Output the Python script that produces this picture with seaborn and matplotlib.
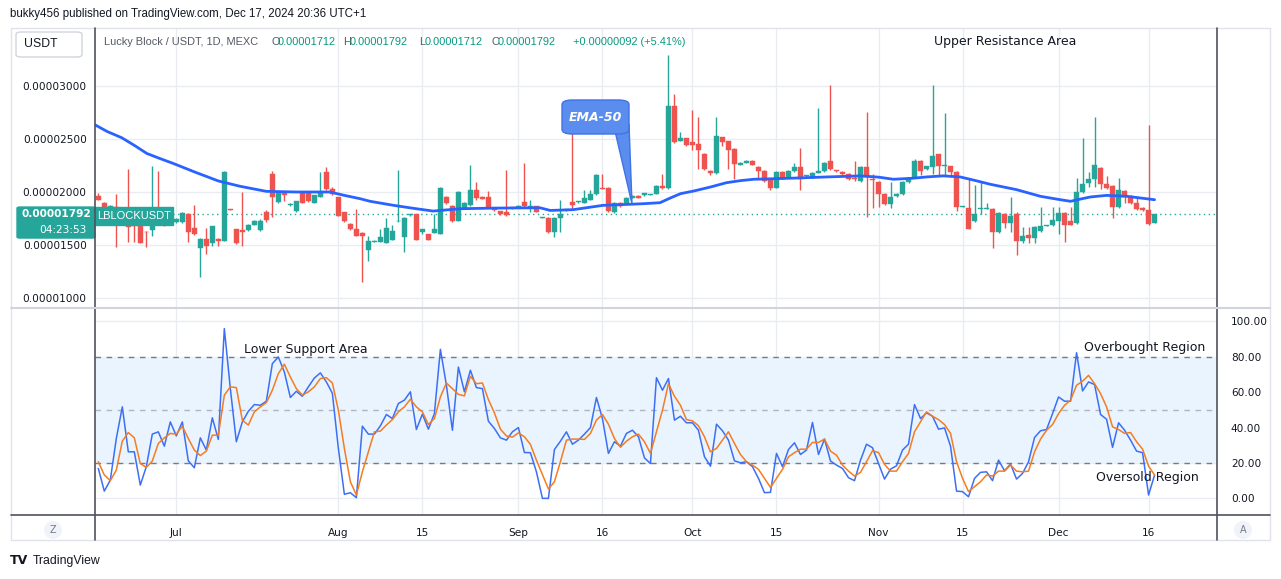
import numpy as np
import pandas as pd
import matplotlib
matplotlib.use("Agg")
import matplotlib.pyplot as plt
import seaborn as sns
from matplotlib.patches import FancyBboxPatch, Polygon, Rectangle, Ellipse
from matplotlib.lines import Line2D
from matplotlib.ticker import FuncFormatter, FixedLocator

sns.set_theme(style="white")
plt.rcParams['font.family'] = ['DejaVu Sans']

# ---------------- data (prices in units of 1e-8 USDT) ----------------
SCALE = 1e-8
opens = [1962, 1899, 1850, 1860, 1716, 1716, 1684, 1684, 1624, 1640,
         1760, 1730, 1693, 1716, 1716, 1795, 1662, 1475, 1558, 1517,
         1558, 1542, 1835, 1652, 1637, 1637, 1693, 1637, 1810, 2174,
         1905, 2000, 1874, 1817, 1994, 1994, 1899, 1953, 2190, 2032,
         1953, 1810, 1700, 1652, 1614, 1456, 1532, 1532, 1520, 1548,
         1722, 1580, 1779, 1788, 1627, 1605, 1614, 1608, 1956, 1870,
         1731, 1848, 1874, 2022, 1956, 1956, 1848, 1820, 1810, 1858,
         1858, 1905, 1858, 1864, 1755, 1757, 1618, 1750, 1826, 1905,
         1902, 1899, 1927, 1978, 2038, 2041, 1807, 1899, 1893, 1943,
         1965, 1968, 1972, 1984, 2060, 2035, 2815, 2483, 2506, 2468,
         2449, 2363, 2202, 2177, 2515, 2477, 2401, 2253, 2272, 2297,
         2240, 2202, 2120, 2041, 2193, 2136, 2196, 2240, 2150, 2133,
         2183, 2196, 2288, 2202, 2193, 2174, 2133, 2101, 2240, 2126,
         2098, 1984, 1883, 1959, 1978, 2092, 2136, 2288, 2215, 2234,
         2354, 2243, 2243, 2193, 1858, 1851, 1722, 1836, 1842, 1842,
         1618, 1788, 1712, 1791, 1542, 1595, 1570, 1630, 1678, 1684,
         1722, 1804, 1722, 1703, 1997, 2082, 2120, 2231, 2079, 2054,
         1855, 2013, 1965, 1899, 1851, 1833, 1712]
highs = [1987, 1905, 1880, 1984, 1780, 2221, 1690, 1690, 1628, 2243,
         2202, 1745, 1750, 1750, 1810, 1800, 1874, 1562, 1662, 1680,
         1562, 2195, 1837, 1655, 2000, 1697, 1732, 1747, 1826, 2196,
         2005, 2003, 1893, 1918, 1997, 2000, 1972, 2190, 2237, 2047,
         1956, 1813, 1703, 1842, 1620, 1589, 1545, 1652, 1754, 1693,
         2212, 1760, 1791, 1792, 1655, 1608, 1788, 2045, 1960, 1875,
         2006, 1902, 2259, 2095, 1960, 2013, 1851, 1823, 2212, 1861,
         1873, 2275, 1921, 1867, 1762, 1760, 1760, 1927, 1835, 2610,
         1915, 2016, 2022, 2168, 2174, 2045, 1902, 1902, 1950, 1968,
         1968, 1994, 1981, 2063, 2174, 3292, 2923, 2562, 2510, 2774,
         2711, 2366, 2205, 2711, 2518, 2480, 2411, 2281, 2300, 2300,
         2243, 2205, 2123, 2196, 2196, 2205, 2269, 2411, 2160, 2186,
         2790, 2281, 3011, 2205, 2196, 2177, 2288, 2243, 2752, 2174,
         2101, 1987, 2098, 1987, 2101, 2139, 2307, 2300, 2246, 3011,
         2357, 2743, 2246, 2196, 1867, 2126, 2063, 2104, 1899, 1845,
         1807, 1804, 1956, 1810, 1668, 1668, 1675, 1861, 1690, 1861,
         1861, 1810, 1861, 2136, 2506, 2193, 2705, 2234, 2155, 2063,
         2136, 2016, 1968, 1965, 1854, 2629, 1792]
lows = [1920, 1850, 1840, 1479, 1700, 1532, 1526, 1515, 1479, 1589,
        1700, 1680, 1690, 1712, 1712, 1526, 1595, 1200, 1415, 1494,
        1494, 1538, 1828, 1512, 1494, 1632, 1690, 1633, 1716, 1763,
        1900, 1912, 1870, 1814, 1893, 1905, 1896, 1950, 2022, 1975,
        1770, 1719, 1646, 1585, 1147, 1352, 1530, 1529, 1517, 1545,
        1718, 1431, 1776, 1548, 1605, 1548, 1611, 1605, 1890, 1719,
        1728, 1845, 1870, 1921, 1930, 1845, 1822, 1785, 1776, 1842,
        1855, 1860, 1810, 1807, 1752, 1615, 1573, 1621, 1822, 1826,
        1899, 1896, 1924, 1975, 2029, 1814, 1804, 1860, 1890, 1940,
        1940, 1965, 1969, 1981, 2032, 2030, 2465, 2480, 2438, 2395,
        2215, 2212, 2158, 2174, 2433, 2215, 2126, 2250, 2269, 2250,
        2133, 2095, 2016, 2038, 2123, 2133, 2193, 2022, 2145, 2130,
        2180, 2193, 2210, 2193, 2164, 2117, 2101, 2098, 1763, 1848,
        1858, 1880, 1848, 1956, 1975, 2089, 2133, 2158, 2212, 2174,
        2158, 2158, 2142, 1817, 1855, 1649, 1719, 1788, 1839, 1475,
        1615, 1659, 1618, 1409, 1523, 1523, 1523, 1627, 1675, 1681,
        1599, 1532, 1690, 1700, 1987, 2047, 2047, 2028, 2025, 1757,
        1852, 1893, 1883, 1833, 1823, 1693, 1712]
closes = [1924, 1858, 1870, 1820, 1760, 1668, 1675, 1523, 1618, 1700,
          1710, 1690, 1747, 1747, 1804, 1627, 1599, 1558, 1488, 1675,
          1542, 2190, 1830, 1517, 1627, 1693, 1728, 1722, 1738, 1953,
          2000, 1968, 1890, 1915, 1896, 1915, 1968, 2000, 2025, 1984,
          1772, 1722, 1649, 1589, 1589, 1542, 1542, 1573, 1662, 1633,
          1731, 1757, 1788, 1551, 1652, 1551, 1652, 2041, 1893, 1722,
          2003, 1899, 2022, 1943, 1934, 1848, 1826, 1788, 1779, 1845,
          1870, 1864, 1864, 1810, 1759, 1618, 1757, 1795, 1830, 1874,
          1912, 1946, 1978, 2164, 2032, 1817, 1899, 1864, 1946, 1965,
          1943, 1991, 1978, 2060, 2035, 2815, 2471, 2506, 2442, 2442,
          2395, 2215, 2183, 2525, 2471, 2395, 2262, 2278, 2297, 2253,
          2196, 2101, 2035, 2193, 2126, 2202, 2234, 2126, 2155, 2183,
          2202, 2278, 2215, 2196, 2167, 2120, 2120, 2240, 2142, 2111,
          1984, 1883, 1956, 1984, 2098, 2136, 2288, 2196, 2243, 2335,
          2243, 2259, 2190, 1855, 1864, 1652, 1795, 1842, 1851, 1618,
          1804, 1703, 1776, 1542, 1583, 1570, 1671, 1681, 1687, 1738,
          1804, 1693, 1693, 2003, 2079, 2126, 2250, 2073, 2041, 1855,
          2022, 1953, 1893, 1836, 1826, 1700, 1792]

# EMA-50 (bar index, price)
ema_idx = [-0.5, 1.5, 3.9, 6, 8.1, 10.3, 12.5, 16, 20, 23.6, 28, 33, 38.6,
           41, 43.6, 45.3, 49.2, 52.5, 55.8, 60.3, 66, 73.6, 75.3, 79.1,
           84.1, 88.1, 91, 93.6, 95.3, 97, 99.2, 102, 104.7, 107, 109.2,
           113.1, 117, 121.4, 127, 130, 132.5, 135.8, 138, 140.8, 143.6,
           146, 148.6, 153, 157, 160, 162, 163.8, 165.3, 168, 171.4, 176]
ema_val = [2632, 2570, 2512, 2440, 2363, 2315, 2269, 2190, 2104, 2054, 2006,
           2000, 2000, 1968, 1937, 1912, 1874, 1846, 1820, 1842, 1848, 1851,
           1826, 1833, 1874, 1883, 1890, 1899, 1943, 1984, 2009, 2047, 2088,
           2107, 2120, 2126, 2133, 2142, 2152, 2140, 2120, 2130, 2142, 2152,
           2142, 2110, 2073, 2022, 1959, 1930, 1912, 1935, 1953, 1968, 1959,
           1927]

# Stochastic %K and %D
stoch_k = [16.9, 4.1, 10.3, 33.8, 51.7, 26.3, 26.3, 7.5, 17.9, 36.3,
           37.6, 29.5, 43.2, 35.3, 43.2, 21.2, 17.3, 34.2, 27.3, 45.5,
           33.3, 95.9, 62.0, 32.0, 43.2, 49.2, 53.0, 52.6, 54.9, 76.1,
           79.9, 71.4, 57.0, 60.5, 57.7, 63.0, 68.0, 70.9, 65.8, 59.4,
           28.2, 2.3, 3.2, 0.4, 40.8, 36.3, 36.3, 41.0, 47.4, 45.1,
           53.6, 55.5, 60.2, 38.9, 47.6, 39.1, 47.9, 84.2, 64.0, 38.5,
           74.2, 60.2, 72.4, 62.6, 62.0, 43.6, 39.5, 34.2, 32.9, 37.6,
           40.0, 25.9, 25.8, 15.0, 0.0, 0.0, 27.6, 32.3, 37.6, 30.6,
           32.9, 36.3, 40.0, 57.0, 45.1, 25.4, 32.0, 29.5, 36.7, 38.5,
           34.8, 22.9, 19.7, 68.2, 61.1, 67.7, 44.2, 46.4, 42.7, 42.7,
           38.5, 23.5, 18.2, 41.9, 38.2, 32.9, 21.2, 20.1, 20.7, 17.9,
           11.3, 3.2, 3.4, 25.4, 17.9, 27.6, 31.4, 24.8, 27.3, 42.9,
           24.8, 33.5, 21.1, 18.8, 16.9, 11.7, 10.0, 21.6, 30.6, 28.6,
           19.7, 10.9, 16.5, 18.4, 27.3, 30.6, 53.0, 45.1, 48.3, 46.4,
           39.1, 39.8, 29.5, 4.1, 3.8, 0.9, 11.3, 14.7, 15.0, 10.0,
           21.6, 15.6, 19.4, 10.9, 14.1, 20.7, 34.4, 38.2, 38.9, 47.9,
           57.3, 54.9, 54.9, 82.3, 60.7, 65.8, 64.3, 47.4, 44.7, 28.8,
           42.7, 38.5, 32.9, 26.7, 25.8, 1.9, 13.2]
stoch_d = [20.7, 13.2, 10.0, 16.0, 32.3, 37.2, 34.2, 19.7, 17.5, 21.1,
           31.0, 34.2, 36.7, 36.3, 40.8, 33.8, 27.3, 24.2, 26.7, 35.7,
           35.7, 58.3, 63.0, 62.6, 44.2, 41.4, 48.9, 51.7, 54.1, 61.1,
           70.5, 75.8, 68.6, 62.0, 58.3, 60.2, 63.0, 67.7, 68.2, 65.2,
           49.8, 28.2, 9.4, 1.9, 15.0, 26.3, 37.6, 38.0, 41.4, 44.5,
           48.9, 51.7, 56.0, 51.7, 48.9, 41.7, 45.1, 57.3, 65.2, 62.0,
           58.8, 57.9, 69.0, 64.8, 65.2, 55.8, 48.3, 39.1, 35.3, 34.6,
           37.0, 34.8, 30.5, 21.6, 13.5, 5.3, 9.4, 20.7, 32.9, 33.5,
           33.5, 33.3, 36.7, 44.2, 47.4, 41.9, 33.8, 28.9, 32.3, 34.8,
           36.3, 32.0, 25.4, 37.6, 49.8, 64.8, 57.7, 52.6, 44.5, 43.8,
           41.0, 34.8, 26.3, 28.2, 32.9, 37.6, 31.0, 24.8, 20.7, 18.8,
           16.4, 11.3, 6.2, 11.3, 16.4, 23.5, 25.8, 27.8, 27.8, 31.6,
           31.6, 33.5, 26.7, 24.4, 18.8, 15.4, 12.6, 14.7, 20.7, 26.9,
           25.9, 19.2, 15.4, 15.4, 20.7, 25.4, 37.6, 43.2, 48.9, 46.4,
           44.5, 41.7, 36.7, 20.7, 11.3, 3.8, 6.6, 9.4, 13.2, 12.6,
           15.4, 15.4, 18.8, 15.4, 15.0, 15.4, 26.3, 33.5, 38.5, 41.7,
           47.9, 52.6, 55.5, 63.9, 66.2, 69.5, 64.8, 59.2, 51.7, 40.4,
           38.9, 36.7, 37.2, 32.0, 27.8, 18.2, 13.2]

tick_pos = [13, 40, 54, 70, 84, 99, 113, 130, 144, 160, 175]
tick_labels = ["Jul", "Aug", "15", "Sep", "16", "Oct", "15", "Nov", "15", "Dec", "16"]
price_ticks = [1000, 1500, 2000, 2500, 3000]
stoch_ticks = [0, 20, 40, 60, 80, 100]

# ---------------- figure ----------------
W, H = 1281, 579
fig = plt.figure(figsize=(W / 100, H / 100), dpi=100)
fig.patch.set_facecolor("white")


def rect(x0, y0, x1, y1):
    return [x0 / W, 1 - y1 / H, (x1 - x0) / W, (y1 - y0) / H]


def fx(x):
    return x / W


def fy(y):
    return 1 - y / H


axp = fig.add_axes(rect(95, 28, 1217, 307))
axs = fig.add_axes(rect(95, 309, 1217, 515))

UP, DOWN = "#26a69a", "#ef5350"
GRID = "#e9edf2"
TXT = "#131722"
NARROW = ['Liberation Sans', 'DejaVu Sans']

df = pd.DataFrame({"i": np.arange(len(opens)),
                   "o": np.array(opens) * SCALE, "h": np.array(highs) * SCALE,
                   "l": np.array(lows) * SCALE, "c": np.array(closes) * SCALE})
df["up"] = df["c"] >= df["o"]
df["col"] = np.where(df["up"], UP, DOWN)

XLIM = (-0.55, 186.4)
for ax in (axp, axs):
    ax.set_xlim(*XLIM)
    ax.set_facecolor("white")
    for t in tick_pos:
        ax.axvline(t, color=GRID, lw=1, zorder=0)
    for s in ax.spines.values():
        s.set_visible(False)
    ax.tick_params(length=0)

# price pane
axp.set_ylim(915 * SCALE, 3547 * SCALE)
for p in price_ticks:
    axp.axhline(p * SCALE, color=GRID, lw=1, zorder=0)
axp.vlines(df["i"], df["l"], df["h"], colors=df["col"], lw=1, zorder=2)
body_h = np.maximum((df["c"] - df["o"]).abs(), 9 * SCALE)
body_b = np.minimum(df["o"], df["c"])
axp.bar(df["i"], body_h, bottom=body_b, width=0.75, color=df["col"],
        edgecolor=df["col"], linewidth=0.3, zorder=3)
sns.lineplot(x=ema_idx, y=np.array(ema_val) * SCALE, ax=axp, color="#2962ff",
             lw=2.0, sort=False, zorder=4, legend=False)
last = closes[-1] * SCALE
axp.axhline(last, color=UP, lw=1, ls=(0, (1, 2.5)), zorder=1)
axp.yaxis.set_major_locator(FixedLocator([p * SCALE for p in price_ticks]))
axp.yaxis.set_major_formatter(FuncFormatter(lambda v, _: f"{v:.8f}"))
axp.tick_params(axis="y", labelsize=7.6, labelcolor=TXT, pad=6)
axp.set_xticks(tick_pos)
axp.set_xticklabels([])
axp.set_xlabel("")
axp.set_ylabel("")

# stochastic pane
axs.set_ylim(-9.4, 107)
for v in stoch_ticks:
    axs.axhline(v, color=GRID, lw=1, zorder=0)
axs.axhspan(20, 80, color="#e9f4fe", zorder=0.5, lw=0)
axs.axhline(80, color="#787b86", lw=1, ls=(0, (4, 4)), zorder=1)
axs.axhline(20, color="#787b86", lw=1, ls=(0, (4, 4)), zorder=1)
axs.axhline(50, color="#b2b5be", lw=1, ls=(0, (4, 4)), zorder=1)
idx = np.arange(len(stoch_k))
sns.lineplot(x=idx, y=stoch_k, ax=axs, color="#3d6ff5", lw=1.1, zorder=3, legend=False)
sns.lineplot(x=idx, y=stoch_d, ax=axs, color="#f57c20", lw=1.1, zorder=4, legend=False)
axs.yaxis.tick_right()
axs.yaxis.set_major_locator(FixedLocator(stoch_ticks))
axs.yaxis.set_major_formatter(FuncFormatter(lambda v, _: f"{v:.2f}"))
axs.tick_params(axis="y", labelsize=7.6, labelcolor=TXT, pad=10)
axs.set_xticks(tick_pos)
axs.set_xticklabels(tick_labels, fontsize=7.6, color=TXT)
axs.tick_params(axis="x", pad=9)
axs.set_xlabel("")
axs.set_ylabel("")

# ---------------- frame lines ----------------
def fline(x0, y0, x1, y1, color, lw=1.0):
    fig.add_artist(Line2D([fx(x0), fx(x1)], [fy(y0), fy(y1)], color=color, lw=lw,
                          transform=fig.transFigure))

fline(11, 28, 1270, 28, "#e0e3eb")
fline(11, 28, 11, 540, "#e0e3eb")
fline(1270, 28, 1270, 540, "#e0e3eb")
fline(11, 540, 1270, 540, "#e0e3eb")
fline(95, 28, 95, 540, "#50535e", 1.2)
fline(1217, 28, 1217, 540, "#50535e", 1.2)
fline(11, 308, 1270, 308, "#d1d4dc", 1.5)
fline(11, 515, 1270, 515, "#50535e", 1.2)

# ---------------- texts ----------------
fig.text(fx(10), fy(14), "bukky456 published on TradingView.com, Dec 17, 2024 20:36 UTC+1",
         fontsize=8.3, color=TXT, va="center", ha="left", family=NARROW)

usdt = FancyBboxPatch((fx(16), fy(57)), fx(66), 25 / H, boxstyle="round,pad=0,rounding_size=0.004",
                      transform=fig.transFigure, facecolor="white", edgecolor="#d1d4dc", lw=1)
fig.add_artist(usdt)
fig.text(fx(24), fy(44), "USDT", fontsize=8.8, color=TXT, va="center", ha="left", family=NARROW)

GREY = "#555a66"
VAL = "#089981"
HF = 7.9
fig.text(fx(104), fy(42), "Lucky Block / USDT, 1D, MEXC", fontsize=HF, color=GREY,
         va="center", family=NARROW)
for lx, lab, vx, val in [(271, "O", 278, "0.00001712"), (343, "H", 350, "0.00001792"),
                         (419, "L", 425, "0.00001712"), (491, "C", 498, "0.00001792")]:
    fig.text(fx(lx), fy(42), lab, fontsize=HF, color=GREY, va="center", family=NARROW)
    fig.text(fx(vx), fy(42), val, fontsize=HF, color=VAL, va="center", family=NARROW)
fig.text(fx(573), fy(42), "+0.00000092 (+5.41%)", fontsize=HF, color=VAL, va="center",
         family=NARROW)

fig.text(fx(934), fy(42), "Upper Resistance Area", fontsize=9, color=TXT, va="center")
fig.text(fx(244), fy(350), "Lower Support Area", fontsize=9, color=TXT, va="center")
fig.text(fx(1084), fy(348), "Overbought Region", fontsize=9, color=TXT, va="center")
fig.text(fx(1096), fy(478), "Oversold Region", fontsize=9, color=TXT, va="center")

# EMA-50 callout
BL = "#5b8def"
ptr = Polygon([(fx(615), fy(131)), (fx(629), fy(124)), (fx(632), fy(204))], closed=True,
              transform=fig.transFigure, facecolor=BL, edgecolor="#3f73e6", lw=1)
fig.add_artist(ptr)
box = FancyBboxPatch((fx(562), fy(134)), fx(67), 34 / H, boxstyle="round,pad=0,rounding_size=0.008",
                     transform=fig.transFigure, facecolor=BL, edgecolor="#3f73e6", lw=1)
fig.add_artist(box)
fig.text(fx(595.5), fy(117), "EMA-50", fontsize=9, color="white", style="italic",
         fontweight="bold", ha="center", va="center")

# last price label
ly = 28 + (3547 - closes[-1]) / (3547 - 915) * 279
lab1 = FancyBboxPatch((fx(17), fy(ly + 24)), fx(78), 31 / H, boxstyle="round,pad=0,rounding_size=0.002",
                      transform=fig.transFigure, facecolor=UP, edgecolor=UP)
fig.add_artist(lab1)
lab2 = Rectangle((fx(95), fy(ly + 11)), fx(78), 18 / H, transform=fig.transFigure,
                 facecolor=UP, edgecolor=UP)
fig.add_artist(lab2)
fig.text(fx(56), fy(ly), "0.00001792", fontsize=7.6, color="white", fontweight="bold",
         ha="center", va="center")
fig.text(fx(63), fy(ly + 15.5), "04:23:53", fontsize=7.6, color="white", ha="center", va="center")
fig.text(fx(134), fy(ly + 1.5), "LBLOCKUSDT", fontsize=8.0, color="white", ha="center",
         va="center", family=NARROW)

# Z / A buttons
for cx, ch in [(53, "Z"), (1243, "A")]:
    fig.add_artist(Ellipse((fx(cx), fy(530)), 18 / W, 18 / H, transform=fig.transFigure,
                           facecolor="#f0f3fa", edgecolor="none"))
    fig.text(fx(cx), fy(530), ch, fontsize=7, color="#787b86", ha="center", va="center")

# TradingView footer
fig.text(fx(10), fy(561), "TV", fontsize=9, color=TXT, fontweight="bold", va="center")
fig.text(fx(33), fy(561), "TradingView", fontsize=8.8, color=TXT, va="center", family=NARROW)

fig.savefig("out.png", dpi=100, facecolor="white")
